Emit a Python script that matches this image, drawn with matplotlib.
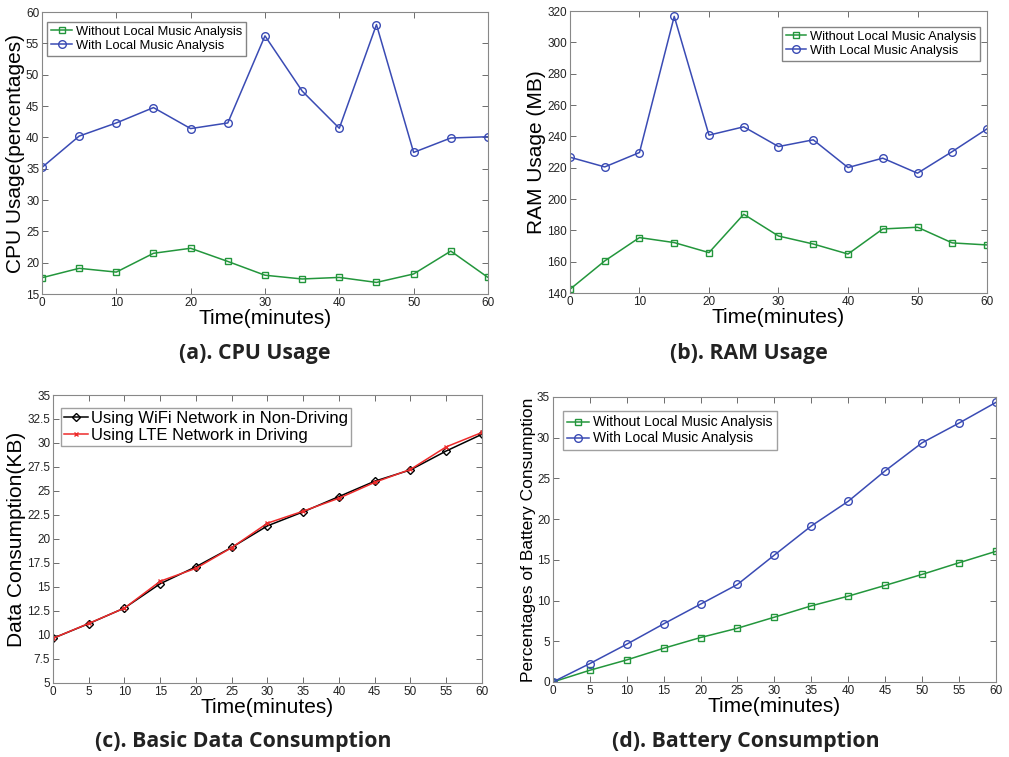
import matplotlib
matplotlib.use("Agg")
import matplotlib.pyplot as plt

plt.rcParams["font.family"] = ["Liberation Sans", "DejaVu Sans"]

time_min = [0, 5, 10, 15, 20, 25, 30, 35, 40, 45, 50, 55, 60]

# (a) CPU usage
cpu_without = [17.6, 19.1, 18.5, 21.5, 22.3, 20.2, 18.0, 17.4, 17.65, 16.85, 18.2, 21.85, 17.65]
cpu_with = [35.2, 40.2, 42.3, 44.75, 41.4, 42.3, 56.2, 47.4, 41.45, 58.0, 37.6, 39.9, 40.1]

# (b) RAM usage
ram_without = [142.4, 160.5, 175.4, 172.2, 165.8, 190.3, 176.4, 171.3, 164.9, 180.9, 182.0, 172.0, 170.7]
ram_with = [226.7, 220.5, 229.7, 316.6, 240.8, 246.1, 233.5, 237.8, 220.1, 226.1, 216.5, 230.3, 244.8]

# (c) data consumption
data_wifi = [9.65, 11.18, 12.81, 15.34, 17.11, 19.12, 21.37, 22.83, 24.42, 26.02, 27.2, 29.17, 30.91]
data_lte = [9.65, 11.2, 12.8, 15.6, 16.95, 19.1, 21.65, 22.9, 24.25, 25.9, 27.25, 29.6, 31.1]

# (d) battery
bat_without = [0.0, 1.44, 2.71, 4.14, 5.46, 6.6, 7.96, 9.35, 10.54, 11.86, 13.21, 14.64, 16.04]
bat_with = [0.0, 2.26, 4.64, 7.14, 9.56, 11.98, 15.59, 19.16, 22.19, 25.93, 29.37, 31.79, 34.33]

GREEN = "#23963c"
BLUE = "#3a4bb4"
RED = "#ee2b2b"
LEG_WITHOUT = "Without Local Music Analysis"
LEG_WITH = "With Local Music Analysis"


def style_axes(ax, xticks, yticks, yticklabels=None):
    ax.set_xlim(0, 60)
    ax.set_xticks(xticks)
    ax.set_yticks(yticks)
    ax.set_ylim(yticks[0], yticks[-1])
    if yticklabels is not None:
        ax.set_yticklabels(yticklabels)
    ax.tick_params(direction="in", top=True, right=True, length=4, width=0.6,
                   labelsize=8.5, colors="#555555", labelcolor="#222222", pad=2)
    for s in ax.spines.values():
        s.set_color("#888888")
        s.set_linewidth(0.8)


fig = plt.figure(figsize=(10.09, 7.57), dpi=100)

# (a)
ax = fig.add_axes([0.0416, 0.6116, 0.442, 0.3725])
ax.plot(time_min, cpu_without, "-s", color=GREEN, mfc="none", ms=4.5, lw=1.1, label=LEG_WITHOUT)
ax.plot(time_min, cpu_with, "-o", color=BLUE, mfc="none", ms=5.5, lw=1.1, label=LEG_WITH)
style_axes(ax, [0, 10, 20, 30, 40, 50, 60], list(range(15, 61, 5)))
ax.set_xlabel("Time(minutes)", fontsize=15, labelpad=0)
ax.set_ylabel("CPU Usage(percentages)", fontsize=15, labelpad=1)
ax.legend(loc="upper left", bbox_to_anchor=(0.012, 0.965), fontsize=9.3, fancybox=False,
          edgecolor="#666666", handlelength=1.6, handletextpad=0.3, borderpad=0.3,
          labelspacing=0.15, borderaxespad=0)

# (b)
ax = fig.add_axes([0.5649, 0.6129, 0.4133, 0.3725])
ax.plot(time_min, ram_without, "-s", color=GREEN, mfc="none", ms=4.5, lw=1.1, label=LEG_WITHOUT)
ax.plot(time_min, ram_with, "-o", color=BLUE, mfc="none", ms=5.5, lw=1.1, label=LEG_WITH)
style_axes(ax, [0, 10, 20, 30, 40, 50, 60], list(range(140, 321, 20)))
ax.set_xlabel("Time(minutes)", fontsize=15, labelpad=0)
ax.set_ylabel("RAM Usage (MB)", fontsize=15, labelpad=1)
ax.legend(loc="upper right", bbox_to_anchor=(0.984, 0.944), fontsize=9.3, fancybox=False,
          edgecolor="#666666", handlelength=1.6, handletextpad=0.3, borderpad=0.3,
          labelspacing=0.15, borderaxespad=0)

# (c)
ax = fig.add_axes([0.0525, 0.0978, 0.4252, 0.3804])
ax.plot(time_min, data_wifi, "-D", color="black", mfc="none", ms=4.5, lw=1.1,
        label="Using WiFi Network in Non-Driving")
ax.plot(time_min, data_lte, "-x", color=RED, ms=3.5, lw=1.1, label="Using LTE Network in Driving")
c_ticks = [5 + 2.5 * i for i in range(13)]
c_labels = ["%g" % v for v in c_ticks]
style_axes(ax, list(range(0, 61, 5)), c_ticks, c_labels)
ax.set_xlabel("Time(minutes)", fontsize=15, labelpad=0)
ax.set_ylabel("Data Consumption(KB)", fontsize=15, labelpad=1)
ax.legend(loc="upper left", bbox_to_anchor=(0.019, 0.955), fontsize=12, fancybox=False,
          edgecolor="#888888", handlelength=1.4, handletextpad=0.2, borderpad=0.2,
          labelspacing=0.1, borderaxespad=0)

# (d)
ax = fig.add_axes([0.548, 0.0991, 0.439, 0.3765])
ax.plot(time_min, bat_without, "-s", color=GREEN, mfc="none", ms=4.5, lw=1.1, label=LEG_WITHOUT)
ax.plot(time_min, bat_with, "-o", color=BLUE, mfc="none", ms=5.5, lw=1.1, label=LEG_WITH)
style_axes(ax, list(range(0, 61, 5)), list(range(0, 36, 5)))
ax.set_xlabel("Time(minutes)", fontsize=15, labelpad=0)
ax.set_ylabel("Percentages of Battery Consumption", fontsize=12.5, labelpad=1)
ax.legend(loc="upper left", bbox_to_anchor=(0.022, 0.95), fontsize=10, fancybox=False,
          edgecolor="#888888", handlelength=1.6, handletextpad=0.3, borderpad=0.3,
          labelspacing=0.15, borderaxespad=0)

# captions
cap = dict(fontsize=15.3, fontweight="bold", family=["Open Sans", "DejaVu Sans"],
           ha="center", va="center", color="#222222")
fig.text(255 / 1009, 1 - 354 / 757, "(a). CPU Usage", **cap)
fig.text(749 / 1009, 1 - 354 / 757, "(b). RAM Usage", **cap)
fig.text(243 / 1009, 1 - 742 / 757, "(c). Basic Data Consumption", **cap)
fig.text(746 / 1009, 1 - 742 / 757, "(d). Battery Consumption", **cap)

fig.savefig("out.png", dpi=100)
